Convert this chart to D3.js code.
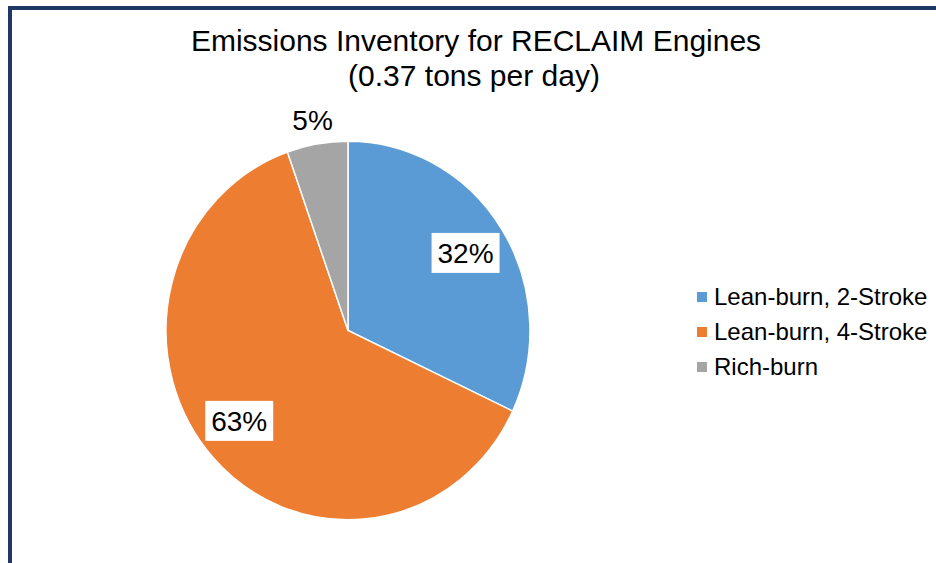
<!DOCTYPE html>
<html>
<head>
<meta charset="utf-8">
<script src="https://cdn.jsdelivr.net/npm/d3@7"></script>
<style>
  html, body { margin: 0; padding: 0; background: #fff; }
  svg { display: block; }
  text { font-family: "Liberation Sans", Arial, sans-serif; fill: #000; }
</style>
</head>
<body>
<svg id="chart" width="936" height="563"></svg>
<script>
const titleLines = ["Emissions Inventory for RECLAIM Engines", "(0.37 tons per day)"];
const categories = ["Lean-burn, 2-Stroke", "Lean-burn, 4-Stroke", "Rich-burn"];
const values = [32.0, 62.6, 5.4];
const colors = ["#5b9bd5", "#ed7d31", "#a5a5a5"];

const svg = d3.select("#chart");
const W = 936, H = 563;

// frame
svg.append("rect").attr("x", 0).attr("y", 0).attr("width", W).attr("height", H).attr("fill", "#fff");
svg.append("rect").attr("x", 8).attr("y", 6).attr("width", W - 8).attr("height", 4).attr("fill", "#1f3864");
svg.append("rect").attr("x", 8).attr("y", 6).attr("width", 4).attr("height", H - 6).attr("fill", "#1f3864");

// title
svg.append("text").attr("x", 476).attr("y", 51).attr("text-anchor", "middle")
  .style("font-size", "30px").text(titleLines[0]);
svg.append("text").attr("x", 474).attr("y", 86).attr("text-anchor", "middle")
  .style("font-size", "30px").text(titleLines[1]);

const cx = 348, cy = 330.5, r = 182, sy = 1.04;
const total = d3.sum(values);
const data = categories.map((c, i) => ({ cat: c, value: values[i], color: colors[i] }));
const pie = d3.pie().value(d => d.value).sort(null);
const arcs = pie(data);
const arc = d3.arc().innerRadius(0).outerRadius(r);

const g = svg.append("g").attr("transform", `translate(${cx},${cy}) scale(1,${sy})`);
g.selectAll("path").data(arcs).join("path")
  .attr("d", arc)
  .attr("fill", d => d.data.color)
  .attr("stroke", "#fff")
  .attr("stroke-width", 1.5)
  .attr("vector-effect", "non-scaling-stroke");

const fmt = d => Math.round(d.data.value / total * 100) + "%";
const labelAngleShift = [0, 3.5, 0]; // degrees, best-fit label placement
const lg = svg.append("g").attr("transform", `translate(${cx},${cy})`);
arcs.forEach((d, i) => {
  const mid = (d.startAngle + d.endAngle) / 2 + labelAngleShift[i] * Math.PI / 180;
  const inside = i < 2;
  const rr = inside ? r * 0.765 : r + 28;
  const x = Math.sin(mid) * rr;
  const y = -Math.cos(mid) * rr * sy + (inside ? 0 : 5);
  if (inside) {
    lg.append("rect")
      .attr("x", x - 34).attr("y", y - 20).attr("width", 68).attr("height", 40)
      .attr("fill", "#fff");
  }
  lg.append("text").attr("x", x).attr("y", y + 10)
    .attr("text-anchor", "middle").style("font-size", "28px").text(fmt(d));
});

// legend
const leg = svg.append("g").attr("transform", "translate(697,297)");
categories.forEach((c, i) => {
  const row = leg.append("g").attr("transform", `translate(0,${i * 35})`);
  row.append("rect").attr("x", 0).attr("y", -5).attr("width", 10).attr("height", 10).attr("fill", colors[i]);
  row.append("text").attr("x", 17).attr("y", 8).style("font-size", "24px").text(c);
});
</script>
</body>
</html>
